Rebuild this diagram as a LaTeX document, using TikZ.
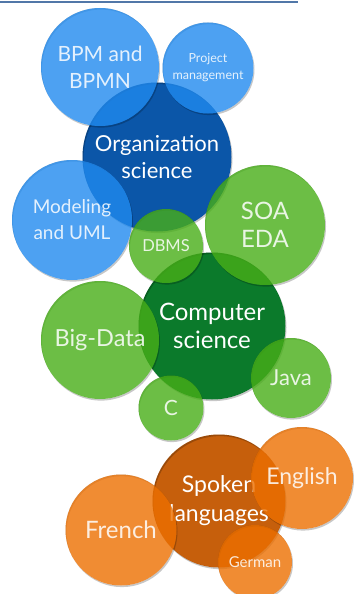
\documentclass[tikz,border=0pt]{standalone}
\usepackage{fontspec}
\setmainfont{Lato}
\usetikzlibrary{calc}
\definecolor{cOrg}{HTML}{0B56A8}
\definecolor{cOrgSat}{HTML}{208AEF}
\definecolor{cComp}{HTML}{0B7A2B}
\definecolor{cCompSat}{HTML}{47AE17}
\definecolor{cLang}{HTML}{C65F0C}
\definecolor{cLangSat}{HTML}{EC6F00}
\definecolor{cRule}{HTML}{5177A8}
\pgfdeclarelayer{hubs}
\pgfdeclarelayer{drops}
\pgfsetlayers{hubs,drops,main}

\begin{document}
\begin{tikzpicture}[
  x=1pt,y=-1pt,
  hub/.style 2 args={circle,fill=#1,minimum size=#2,inner sep=0pt,outer sep=0pt,
              text=white,align=center},
  sat/.style 2 args={circle,fill=#1,fill opacity=.8,text opacity=.85,minimum size=#2,
              inner sep=0pt,outer sep=0pt,text=white,align=center},
  fnt/.style 2 args={font=\fontsize{#1}{#2}\selectfont},
  shadowring/.style={fill=black,fill opacity=.22,even odd rule}
]
\useasboundingbox (0,0) rectangle (356,594);
\draw[cRule,line width=2.2pt] (0,2) -- (298,2);

%======================= HUBS =======================
\begin{pgfonlayer}{hubs}
\node[hub={cOrg}{149pt},fnt={22}{27}]  (org)  at (157,157) {Organization\\science};
\node[hub={cComp}{147pt},fnt={24}{28}] (comp) at (212,326) {Computer\\science};
\node[hub={cLang}{133pt},fnt={23}{29}] (lang) at (219,501) {Spoken\\languages};
\end{pgfonlayer}

%======================= ORGANIZATION =======================
\node[sat={cOrgSat}{118pt},fnt={21}{27}] (bpm) at (100,67)  {BPM and\\BPMN};
\node[sat={cOrgSat}{91pt},fnt={12.5}{17}] (pm)  at (208,68)  {Project\\management};
\node[sat={cOrgSat}{120pt},fnt={19}{26}] (mod) at (72,220)  {Modeling\\and UML};

%======================= COMPUTER =======================
\node[sat={cCompSat}{74pt},fnt={16.5}{19}] (dbms) at (166,246) {DBMS};
\node[sat={cCompSat}{120pt},fnt={24}{28}] (soa)  at (265,225) {SOA\\EDA};
\node[sat={cCompSat}{118pt},fnt={23.5}{27}] (big)  at (100,340) {Big-Data};
\node[sat={cCompSat}{80pt},fnt={22}{25}]  (java) at (291,378) {Java};
\node[sat={cCompSat}{65pt},fnt={21}{24}]  (clang) at (171,408) {C};

%======================= LANGUAGES =======================
\node[sat={cLangSat}{102pt},fnt={23}{26}] (eng) at (302,478) {English};
\node[sat={cLangSat}{111pt},fnt={24}{27}] (fr)  at (121,530) {French};
\node[sat={cLangSat}{74pt},fnt={15}{17}]  (ger) at (255,562) {German};

%======================= SHADOWS =======================
\begin{pgfonlayer}{drops}
\foreach \bub in {org,comp,lang,bpm,pm,mod,dbms,soa,big,java,clang,eng,fr,ger}
  \fill[shadowring] let \p1=(\bub.center), \p2=(\bub.east) in
    (\x1+1pt,\y1-1.6pt) circle[radius=\x2-\x1] (\p1) circle[radius=\x2-\x1];
\end{pgfonlayer}

\end{tikzpicture}
\end{document}
